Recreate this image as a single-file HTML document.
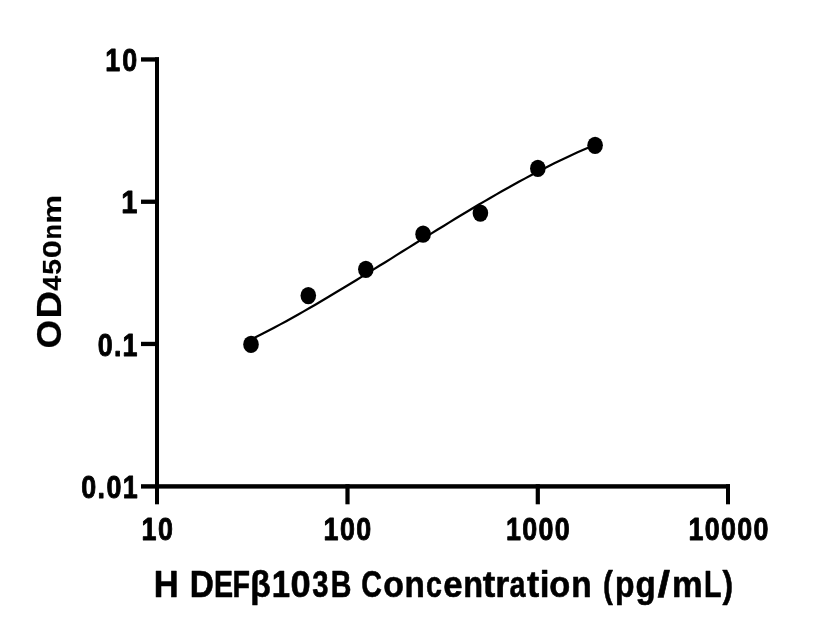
<!DOCTYPE html>
<html><head><meta charset="utf-8"><title>Standard curve</title>
<style>
html,body{margin:0;padding:0;background:#fff;}
svg{display:block;}
text{font-family:"Liberation Sans",sans-serif;font-weight:bold;fill:#000;stroke:#000;stroke-width:0.9px;stroke-linejoin:round;}
</style></head>
<body>
<svg width="816" height="640" viewBox="0 0 816 640">
<rect width="816" height="640" fill="#fff"/>
<g fill="#000">
<!-- axes -->
<rect x="155" y="57.3" width="4" height="431.3"/>
<rect x="141" y="484.2" width="589" height="4.4"/>
<!-- y ticks -->
<rect x="141" y="57.3" width="18" height="4.3"/>
<rect x="141" y="199.6" width="18" height="4.3"/>
<rect x="141" y="341.8" width="18" height="4.3"/>
<!-- x ticks -->
<rect x="155" y="484.2" width="4" height="20.1"/>
<rect x="345.4" y="484.2" width="4.2" height="20.1"/>
<rect x="535.7" y="484.2" width="4.2" height="20.1"/>
<rect x="726" y="484.2" width="4" height="20.1"/>
</g>
<!-- y tick labels -->
<text transform="translate(105.32 70.8) scale(0.8500 1)" font-size="31.6" letter-spacing="2.296">10</text>
<text transform="translate(121.17 212.9) scale(0.9203 1)" font-size="31.6" letter-spacing="0.000">1</text>
<text transform="translate(97.79 355.5) scale(0.8500 1)" font-size="31.6" letter-spacing="1.416">0.1</text>
<text transform="translate(81.29 497.5) scale(0.8500 1)" font-size="31.6" letter-spacing="1.635">0.01</text>
<!-- x tick labels -->
<text transform="translate(141.52 540.2) scale(0.8500 1)" font-size="31.6" letter-spacing="1.943">10</text>
<text transform="translate(323.62 540.2) scale(0.8500 1)" font-size="31.6" letter-spacing="1.655">100</text>
<text transform="translate(506.12 540.2) scale(0.8500 1)" font-size="31.6" letter-spacing="1.520">1000</text>
<text transform="translate(688.62 540.2) scale(0.8500 1)" font-size="31.6" letter-spacing="1.540">10000</text>
<!-- x title -->
<text y="597.1" font-size="37.7" style="stroke-width:0.6px"><tspan font-size="37.7"><tspan x="153.87" textLength="24.88" lengthAdjust="spacingAndGlyphs">H</tspan></tspan> <tspan font-size="37.7"><tspan x="189.73" textLength="24.10" lengthAdjust="spacingAndGlyphs">D</tspan><tspan x="213.95" textLength="19.11" lengthAdjust="spacingAndGlyphs">E</tspan><tspan x="232.57" textLength="17.50" lengthAdjust="spacingAndGlyphs">F</tspan><tspan x="250.14" textLength="20.53" lengthAdjust="spacingAndGlyphs">β</tspan><tspan x="271.72" textLength="18.33" lengthAdjust="spacingAndGlyphs">1</tspan><tspan x="290.46" textLength="20.14" lengthAdjust="spacingAndGlyphs">0</tspan><tspan x="312.36" textLength="16.26" lengthAdjust="spacingAndGlyphs">3</tspan><tspan x="330.85" textLength="20.69" lengthAdjust="spacingAndGlyphs">B</tspan></tspan> <tspan font-size="37.7"><tspan x="361.15" textLength="20.70" lengthAdjust="spacingAndGlyphs">C</tspan><tspan x="383.15" textLength="20.71" lengthAdjust="spacingAndGlyphs">o</tspan><tspan x="404.57" textLength="20.33" lengthAdjust="spacingAndGlyphs">n</tspan><tspan x="425.89" textLength="15.93" lengthAdjust="spacingAndGlyphs">c</tspan><tspan x="443.21" textLength="19.40" lengthAdjust="spacingAndGlyphs">e</tspan><tspan x="463.22" textLength="19.84" lengthAdjust="spacingAndGlyphs">n</tspan><tspan x="482.82" textLength="12.55" lengthAdjust="spacingAndGlyphs">t</tspan><tspan x="495.31" textLength="14.05" lengthAdjust="spacingAndGlyphs">r</tspan><tspan x="509.47" textLength="15.93" lengthAdjust="spacingAndGlyphs">a</tspan><tspan x="526.94" textLength="12.21" lengthAdjust="spacingAndGlyphs">t</tspan><tspan x="539.82" textLength="9.80" lengthAdjust="spacingAndGlyphs">i</tspan><tspan x="549.33" textLength="21.04" lengthAdjust="spacingAndGlyphs">o</tspan><tspan x="571.26" textLength="20.45" lengthAdjust="spacingAndGlyphs">n</tspan></tspan> <tspan font-size="37.7"><tspan x="603.06" textLength="9.83" lengthAdjust="spacingAndGlyphs">(</tspan><tspan x="615.05" textLength="19.51" lengthAdjust="spacingAndGlyphs">p</tspan><tspan x="635.60" textLength="20.25" lengthAdjust="spacingAndGlyphs">g</tspan><tspan x="657.57" textLength="12.57" lengthAdjust="spacingAndGlyphs">/</tspan><tspan x="672.00" textLength="30.66" lengthAdjust="spacingAndGlyphs">m</tspan><tspan x="704.03" textLength="17.50" lengthAdjust="spacingAndGlyphs">L</tspan><tspan x="722.62" textLength="10.61" lengthAdjust="spacingAndGlyphs">)</tspan></tspan></text>
<!-- y title -->
<g transform="translate(61.3 348) rotate(-90)">
<text y="0" style="stroke-width:0.2px"><tspan font-size="34.2"><tspan x="-0.50" textLength="28.64" lengthAdjust="spacingAndGlyphs">O</tspan><tspan x="29.46" textLength="27.53" lengthAdjust="spacingAndGlyphs">D</tspan></tspan><tspan font-size="26.3"><tspan x="57.20" textLength="14.95" lengthAdjust="spacingAndGlyphs">4</tspan><tspan x="73.34" textLength="15.74" lengthAdjust="spacingAndGlyphs">5</tspan><tspan x="89.83" textLength="18.19" lengthAdjust="spacingAndGlyphs">0</tspan><tspan x="108.62" textLength="15.26" lengthAdjust="spacingAndGlyphs">n</tspan><tspan x="124.19" textLength="28.80" lengthAdjust="spacingAndGlyphs">m</tspan></tspan></text>
</g>
<!-- curve -->
<path d="M251.2 339.5 L257.0 336.6 L262.9 333.6 L268.7 330.6 L274.5 327.5 L280.3 324.4 L286.2 321.2 L292.0 318.0 L297.8 314.7 L303.7 311.4 L309.5 308.0 L315.3 304.7 L321.1 301.3 L327.0 297.8 L332.8 294.3 L338.6 290.8 L344.5 287.3 L350.3 283.8 L356.1 280.2 L361.9 276.6 L367.8 273.0 L373.6 269.4 L379.4 265.8 L385.3 262.2 L391.1 258.6 L396.9 254.9 L402.7 251.3 L408.6 247.6 L414.4 244.0 L420.2 240.4 L426.1 236.8 L431.9 233.1 L437.7 229.5 L443.6 226.0 L449.4 222.4 L455.2 218.8 L461.0 215.3 L466.9 211.8 L472.7 208.3 L478.5 204.8 L484.4 201.4 L490.2 198.0 L496.0 194.6 L501.8 191.3 L507.7 188.0 L513.5 184.8 L519.3 181.5 L525.2 178.4 L531.0 175.3 L536.8 172.2 L542.6 169.2 L548.5 166.2 L554.3 163.3 L560.1 160.5 L566.0 157.7 L571.8 154.9 L577.6 152.3 L583.4 149.7 L589.3 147.2 L595.1 144.7" fill="none" stroke="#000" stroke-width="2.2" stroke-linecap="round" stroke-linejoin="round"/>
<!-- points -->
<g fill="#000">
<ellipse cx="251.0" cy="344.45" rx="7.8" ry="8.6"/>
<ellipse cx="308.3" cy="295.6" rx="7.8" ry="8.6"/>
<ellipse cx="365.85" cy="269.35" rx="7.8" ry="8.6"/>
<ellipse cx="423.1" cy="234.2" rx="7.8" ry="8.6"/>
<ellipse cx="480.4" cy="213.1" rx="7.8" ry="8.6"/>
<ellipse cx="537.85" cy="168.4" rx="7.8" ry="8.6"/>
<ellipse cx="595.1" cy="145.3" rx="7.8" ry="8.6"/>
</g>
</svg>
</body></html>
